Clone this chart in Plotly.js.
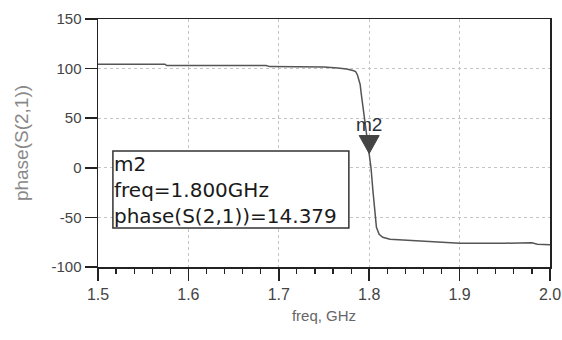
<!DOCTYPE html>
<html>
<head>
<meta charset="utf-8">
<script src="https://cdn.plot.ly/plotly-3.0.1.min.js"></script>
<style>html,body{margin:0;padding:0;background:#fff;}#chart{width:562px;height:340px;}</style>
</head>
<body>
<div id="chart"></div>
<script>
// Frequency (GHz) and phase(S(2,1)) in degrees
const freq = [1.500, 1.540, 1.574, 1.576, 1.620, 1.686, 1.690, 1.720, 1.750, 1.765, 1.775, 1.782, 1.785, 1.787, 1.789, 1.790, 1.791, 1.793, 1.796, 1.798, 1.800, 1.802, 1.804, 1.806, 1.808, 1.811, 1.815, 1.823, 1.850, 1.885, 1.900, 1.950, 1.980, 1.986, 2.000];
const phase = [104.5, 104.5, 104.5, 103, 103, 103, 102, 102, 101.5, 100.5, 99.5, 98, 97, 93.6, 88.5, 84, 76, 62, 42, 28, 14.379, 0, -22, -42, -60, -67, -70, -72, -73.5, -75.5, -76, -76, -75.5, -77, -77.5];

// Marker m2
const markerName = "m2";
const markerFreq = 1.800;
const markerPhase = 14.379;
const readoutLines = ["m2", "freq=1.800GHz", "phase(S(2,1))=14.379"];

// Axis ticks
const xTicks = [1.5, 1.6, 1.7, 1.8, 1.9, 2.0];
const xTickText = ["1.5", "1.6", "1.7", "1.8", "1.9", "2.0"];
const yTicks = [-100, -50, 0, 50, 100, 150];
const yTickText = ["-100", "-50", "0", "50", "100", "150"];

const FONT = "Liberation Sans, Arial, Helvetica, sans-serif";
const WIDE = "DejaVu Sans, Verdana, sans-serif";

const trace = {
  x: freq, y: phase, type: "scatter", mode: "lines",
  line: {color: "#555555", width: 1.5},
  hoverinfo: "skip", showlegend: false
};

const annotations = [{
  xref: "paper", yref: "paper", x: 0.034, y: 0.468,
  xanchor: "left", yanchor: "top", align: "left", showarrow: false, borderpad: 0,
  text: readoutLines.join("<br>"), font: {family: WIDE, size: 20, color: "#1a1a1a"}
}, {
  x: markerFreq, y: markerPhase, xref: "x", yref: "y",
  xanchor: "center", yanchor: "bottom", yshift: 17, showarrow: false,
  text: markerName, font: {family: FONT, size: 19, color: "#2a2f3a"}
}];

const layout = {
  width: 562, height: 340,
  margin: {l: 98, r: 12, t: 19, b: 73},
  paper_bgcolor: "#ffffff", plot_bgcolor: "#ffffff",
  font: {family: FONT, size: 15, color: "#444444"},
  xaxis: {
    range: [1.5, 2.0], tickvals: xTicks, ticktext: xTickText,
    showline: true, linecolor: "#222222", linewidth: 1.5, mirror: true,
    ticks: "outside", ticklen: 12, tickwidth: 1.5, tickcolor: "#222222",
    minor: {dtick: 0.02, tick0: 1.5, ticks: "outside", ticklen: 5, tickwidth: 1.2, tickcolor: "#222222", showgrid: false},
    showgrid: true, gridcolor: "#c4c4c4", griddash: "dot", gridwidth: 1,
    zeroline: false,
    tickfont: {family: FONT, size: 16, color: "#444444"},
    title: {text: "freq, GHz", font: {family: FONT, size: 15, color: "#666666"}, standoff: 9}
  },
  yaxis: {
    range: [-100, 150], tickvals: yTicks, ticktext: yTickText,
    showline: true, linecolor: "#222222", linewidth: 1.5, mirror: true,
    ticks: "outside", ticklen: 12, tickwidth: 1.5, tickcolor: "#222222",
    showgrid: true, gridcolor: "#c4c4c4", griddash: "dot", gridwidth: 1,
    zeroline: false,
    tickfont: {family: FONT, size: 15, color: "#444444"},
    title: {text: "phase(S(2,1))", font: {family: FONT, size: 19, color: "#888888"}, standoff: 18}
  },
  shapes: [
    {type: "rect", xref: "paper", yref: "paper", x0: 0.033, x1: 0.555, y0: 0.157, y1: 0.468,
     line: {color: "#333333", width: 1.5}, fillcolor: "#ffffff", layer: "above"},
    {type: "path", xref: "x", yref: "y", xsizemode: "pixel", ysizemode: "pixel",
     xanchor: markerFreq, yanchor: markerPhase,
     path: "M 0,0 L -10,18 L 10,18 Z", fillcolor: "#444444", line: {color: "#444444", width: 1}}
  ],
  annotations: annotations
};

Plotly.newPlot("chart", [trace], layout, {staticPlot: true, displayModeBar: false});
</script>
</body>
</html>
